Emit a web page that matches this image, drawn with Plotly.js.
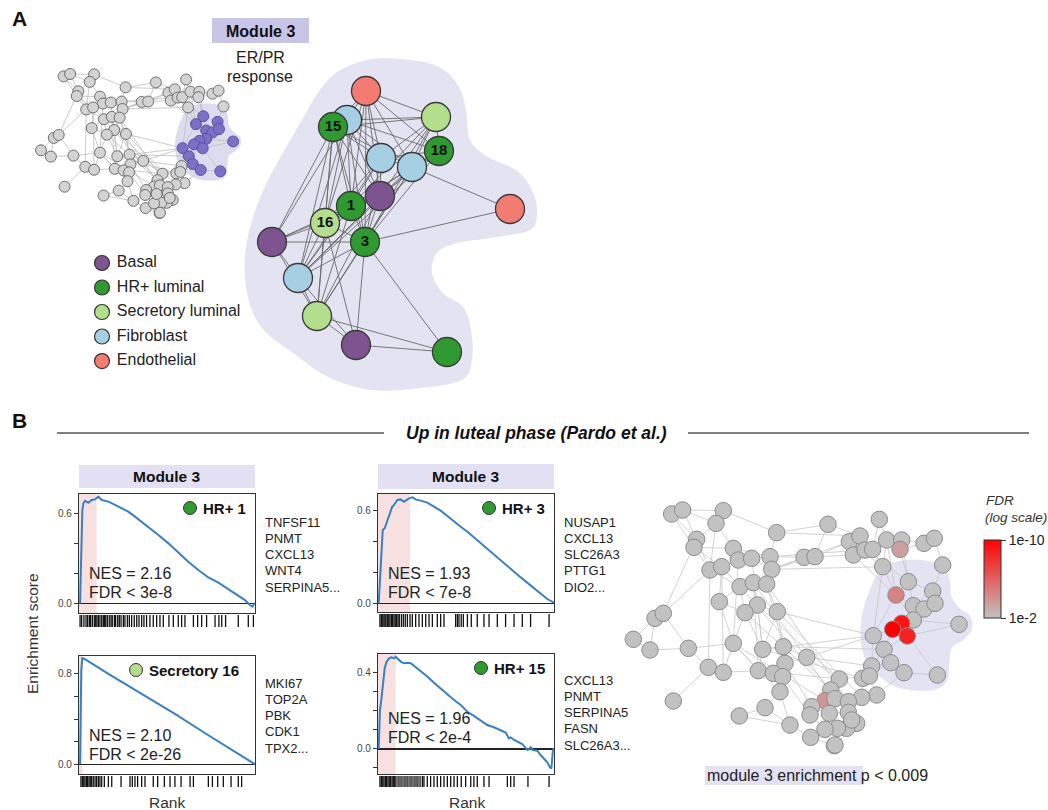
<!DOCTYPE html>
<html>
<head>
<meta charset="utf-8">
<script src="https://cdn.plot.ly/plotly-3.0.1.min.js"></script>
<style>
  html, body { margin: 0; padding: 0; background: #fff; }
  #fig { width: 1048px; height: 810px; }
</style>
</head>
<body>
<div id="fig"></div>
<script>
// ---------------------------------------------------------------
// Cell-type palette
// ---------------------------------------------------------------
const cellTypes  = ['Basal', 'HR+ luminal', 'Secretory luminal', 'Fibroblast', 'Endothelial'];
const typeColors = ['#7e5490', '#2f9a2f', '#b3df8c', '#a6cfe3', '#f47b72'];

// ---------------------------------------------------------------
// Module 3 sub-network (cell-type specific gene programs)
// ---------------------------------------------------------------
const modNodeX    = [366, 347, 333, 436, 439, 381, 412, 380, 351, 325, 365, 510, 272, 298, 317, 356, 447];
const modNodeY    = [ 91, 120, 127, 117, 151, 158, 167, 196, 206, 223, 242, 209, 242, 278, 316, 345, 352];
const modNodeType = [  4,   3,   1,   2,   1,   3,   3,   0,   1,   2,   1,   4,   0,   3,   2,   0,   1];
const modNodeText = ['', '', '15', '', '18', '', '', '', '1', '16', '3', '', '', '', '', '', ''];
const modEdges = [
  [0,1],[0,2],[0,3],[0,4],[0,5],[0,6],[0,7],[0,8],[0,9],[0,10],
  [1,2],[1,3],[1,4],[1,5],[1,6],[1,7],[1,8],[1,9],[1,10],[1,12],[1,13],
  [2,3],[2,5],[2,6],[2,7],[2,8],[2,9],[2,10],[2,12],[2,13],[2,14],
  [3,4],[3,5],[3,6],[3,7],[3,8],[3,10],
  [4,5],[4,6],[4,7],[4,8],[4,10],[4,13],
  [5,6],[5,7],[5,8],[5,9],[5,10],[5,13],
  [6,7],[6,8],[6,10],[6,11],[6,13],[6,14],
  [7,8],[7,9],[7,10],[7,13],[7,14],[7,12],
  [8,9],[8,10],[8,13],[8,14],[8,12],
  [9,10],[9,12],[9,13],[9,14],[9,15],
  [10,11],[10,12],[10,13],[10,14],[10,15],[10,16],
  [12,13],[12,14],[13,14],[13,15],[14,15],[14,16],[15,16]
];
const modHullOutline = [
  [363,61],[400,59],[437,66],[458,85],[466,110],[470,140],[488,157],[516,170],[532,190],[537,213],
  [530,230],[497,237],[457,243],[437,253],[432,273],[443,293],[463,307],[471,330],[472,360],[462,380],
  [420,388],[372,390],[330,378],[296,355],[262,328],[247,293],[246,247],[262,193],[295,132],[328,80]
];

// ---------------------------------------------------------------
// Global module network (shared layout for both overviews)
// ---------------------------------------------------------------
const netX = [215,248,370,348,290,282,400,415,455,510,515,530,330,365,420,460,500,358,472,435,532,165,190,100,150,265,325,370,220,400,488,475,550,555,520,548,620,540,495,418,570,632,703,612,645,684,748,780,760,795,818,838,848,860,905,900,972,1003,1028,925,888,998,940,972,1005,940,905,878,922,820,852,872,912,1012,1077,815,788,830,785,808,718,692,675,705,745,745,770,740,712,675,688,635,630,755,705];
const netY = [162,150,152,190,238,262,265,300,295,290,328,218,330,320,380,368,372,425,435,458,455,475,460,538,570,565,622,637,723,550,568,632,560,610,640,650,592,695,743,768,795,832,857,292,290,193,245,228,285,270,268,178,320,240,240,268,250,235,315,365,405,393,437,447,430,480,490,508,528,527,568,608,638,645,493,618,655,705,712,648,657,690,722,716,725,757,790,805,805,808,760,740,765,780,855];
const module3Nodes = [59,60,61,62,63,64,65,66,67,68,69,70,71,72,73,74];
const netEdges = [
  [0,1],[0,4],[0,5],[1,3],[1,4],[1,2],[2,3],[2,11],[3,4],[3,6],[3,12],[4,5],[4,12],[5,6],[5,12],[5,13],
  [6,7],[6,8],[6,9],[7,8],[7,13],[8,9],[8,10],[9,10],[9,11],[9,43],[10,43],[10,44],[11,45],
  [12,13],[12,14],[13,14],[13,17],[14,15],[14,19],[15,16],[15,18],[16,10],[16,20],[18,19],[18,20],[17,19],[14,17],
  [21,22],[21,23],[21,24],[22,12],[22,4],[23,24],[24,25],[25,26],[25,29],[26,27],[26,28],[27,29],[22,25],
  [17,29],[19,29],[19,30],[18,30],[20,32],[20,30],[29,31],[30,31],[30,32],[31,33],[32,33],[33,34],[34,35],
  [31,34],[27,31],[29,37],[33,36],[35,37],[36,80],[37,38],[38,39],[38,40],[39,40],[40,41],[41,42],[37,40],
  [12,26],[13,27],[15,31],[16,32],[7,29],[8,30],
  [43,44],[44,45],[44,46],[45,47],[46,47],[46,48],[47,48],[47,49],[48,49],[49,50],[50,51],[50,52],[51,53],
  [52,53],[53,54],[53,55],[54,55],[54,56],[55,56],[56,57],[57,58],[55,59],[52,60],[54,59],[43,48],[10,46],[11,47],
  [58,61],[59,60],[59,61],[59,62],[60,62],[60,65],[61,62],[61,63],[61,64],[62,63],[62,65],[63,64],[63,65],
  [64,65],[65,66],[65,68],[66,67],[66,68],[67,68],[67,69],[67,70],[68,70],[68,74],[68,73],[69,70],[70,71],
  [71,72],[72,73],[71,75],[70,75],[69,75],[60,69],[65,74],[62,66],[71,76],[72,77],
  [75,76],[75,79],[76,79],[76,78],[77,78],[77,79],[78,84],[79,80],[80,81],[80,83],[81,82],[81,83],[82,83],
  [82,91],[83,84],[84,85],[85,86],[85,93],[86,87],[87,88],[88,89],[89,90],[90,91],[91,92],[92,89],[93,87],
  [86,94],[88,94],[90,85],[83,90],[84,86],
  [36,69],[32,36],[30,76],[20,69],[18,80],[19,81],[29,82],[35,92],[33,91],[31,80],[14,81],[15,83],[16,84],
  [20,78],[36,75],[32,70],[30,69],[10,52],[9,50],[46,52],[48,60],[49,59],[52,69],[53,60]
];
const module3Outline = [
  [880,306],[960,300],[1030,318],[1050,365],[1055,410],[1080,445],[1112,470],[1115,510],[1090,540],
  [1055,565],[1048,610],[1042,660],[1010,688],[950,692],[890,682],[845,655],[805,615],[785,560],
  [782,495],[795,430],[820,365],[848,322]
];
// nodes enriched for luteal-phase genes, as -log10(FDR)
const enrichedNodes  = [55, 60, 66, 67, 68, 82];
const enrichedNegLog = [3.4, 4.6, 9.2, 10.0, 8.6, 3.8];
const fdrScaleMin = 2, fdrScaleMax = 10;

// ---------------------------------------------------------------
// GSEA running enrichment scores (rank in % of ranked gene list)
// ---------------------------------------------------------------
const gseaNames   = ['HR+ 1', 'Secretory 16', 'HR+ 3', 'HR+ 15'];
const gseaTypes   = [1, 2, 1, 1];
const nesValues   = ['2.16', '2.10', '1.93', '1.96'];
const fdrBounds   = ['3e-8', '2e-26', '7e-8', '2e-4'];
const leadingEdge = [10, 2, 18.2, 10];
const topGenesHR1  = ['TNFSF11', 'PNMT', 'CXCL13', 'WNT4', 'SERPINA5...'];
const topGenesSec16 = ['MKI67', 'TOP2A', 'PBK', 'CDK1', 'TPX2...'];
const topGenesHR3  = ['NUSAP1', 'CXCL13', 'SLC26A3', 'PTTG1', 'DIO2...'];
const topGenesHR15 = ['CXCL13', 'PNMT', 'SERPINA5', 'FASN', 'SLC26A3...'];

const rankHR1 = [0.6,1.1,1.9,2.5,3.4,5.3,7.2,9.1,11.0,12.9,16.7,20.5,24.2,28.0,31.8,35.6,39.4,45.1,50.8,56.4,62.1,67.8,73.5,79.2,84.8,90.5,94.3,97.2,98.5,100];
const esHR1   = [0,0.31,0.62,0.667,0.684,0.671,0.689,0.693,0.711,0.689,0.678,0.656,0.633,0.611,0.578,0.544,0.511,0.456,0.40,0.338,0.278,0.222,0.173,0.138,0.093,0.049,0.022,-0.011,-0.022,0.004];
const rankSec16 = [0.6,0.9,1.3,1.9,3.4,16.7,35.6,54.5,73.5,92.4,100];
const esSec16   = [0,0.422,0.835,0.939,0.930,0.800,0.620,0.446,0.257,0.074,0];
const rankHR3 = [0.4,0.8,1.1,1.5,2.1,2.7,3.8,4.4,5.3,6.3,7.2,8.1,9.1,10.0,11.0,12.9,14.8,16.7,17.6,19.5,21.4,24.2,28.0,31.8,35.6,39.4,43.2,47.0,50.8,54.5,58.3,62.1,65.9,69.7,73.5,77.3,81.1,84.8,88.6,92.4,96.2,100];
const esHR3   = [0,0.086,0.194,0.302,0.41,0.475,0.486,0.507,0.529,0.572,0.604,0.626,0.637,0.652,0.669,0.673,0.658,0.673,0.680,0.686,0.673,0.665,0.652,0.626,0.600,0.566,0.529,0.496,0.464,0.427,0.393,0.356,0.319,0.281,0.242,0.205,0.168,0.134,0.097,0.060,0.028,0.004];
const rankHR15 = [0.4,0.8,1.1,1.9,2.5,3.0,3.8,4.9,6.3,7.6,9.1,10.0,11.0,12.9,14.8,16.7,18.6,20.5,24.2,28.0,31.8,35.6,39.4,43.2,47.0,50.8,54.5,58.3,62.1,65.9,69.7,72.5,74.4,75.4,77.3,79.2,82.0,83.9,84.8,85.8,86.7,87.7,90.5,92.4,94.3,96.2,97.7,98.5,99.4,100];
const esHR15   = [0,0.118,0.205,0.258,0.311,0.372,0.425,0.46,0.477,0.482,0.477,0.486,0.477,0.46,0.451,0.454,0.451,0.437,0.412,0.381,0.349,0.319,0.284,0.258,0.232,0.196,0.174,0.149,0.126,0.114,0.096,0.086,0.056,0.061,0.047,0.039,0.026,0.004,-0.005,-0.002,0.009,-0.005,-0.009,-0.032,-0.049,-0.07,-0.096,-0.104,-0.005,0.004];

// positions of module genes in the ranked list
const hitsHR1 = [0.6,1.5,2.8,4.0,4.9,5.9,6.6,7.6,8.7,9.5,10.2,11.0,11.9,12.9,13.8,14.4,15.2,16.1,17.2,18.2,18.9,20.1,20.8,22.0,22.9,23.9,25.2,26.1,27.5,28.6,29.9,31.4,32.8,34.1,35.6,36.9,38.4,40.3,42.2,44.1,46.0,47.9,51.1,53.6,56.4,58.3,60.2,65.0,67.4,69.7,72.5,77.3,79.5,81.1,83.3,90.5,96.2,99.1];
const hitsSec16 = [1.1,1.9,2.7,3.4,4.2,4.9,5.7,6.4,7.2,8.1,9.1,10.0,11.0,11.9,12.9,14.4,16.7,18.6,23.9,29.0,30.3,31.8,33.3,35.6,37.5,42.2,44.7,48.5,51.7,54.5,58.0,63.1,65.0,73.5,75.8,78.8,82.0,86.4,90.5,92.4];
const hitsHR3 = [1.1,1.9,2.7,3.4,4.0,4.5,5.3,6.1,6.8,7.6,8.3,9.1,9.8,10.6,11.4,12.1,13.3,14.4,15.5,16.7,18.2,19.5,21.4,23.3,25.2,27.1,29.0,30.9,33.7,35.6,37.5,44.1,45.1,46.0,47.3,48.5,50.8,53.0,56.4,60.2,63.1,67.8,72.5,77.3,82.0,86.7,97.2];
const hitsHR15 = [1.1,1.9,2.7,3.4,4.2,4.9,5.7,6.4,7.2,8.0,8.7,9.5,10.2,11.4,12.5,13.6,14.8,15.9,17.0,18.2,19.3,20.5,21.6,22.7,23.9,25.2,26.1,28.0,29.9,31.8,33.7,35.6,37.5,39.4,41.3,43.2,45.1,47.3,49.8,52.7,54.5,56.4,60.2,63.1,73.5,75.4,77.3,85.2,97.2];

// ---------------------------------------------------------------
// Helpers (page is 1048 x 810, positions below are in pixels)
// ---------------------------------------------------------------
const W = 1048, H = 810;
const FONT = 'Liberation Sans, Arial, Helvetica, sans-serif';
const INK = '#222';
const fx = p => p / W;
const fy = p => 1 - p / H;
const xdom = (a, b) => [a / W, b / W];
const ydom = (a, b) => [1 - b / H, 1 - a / H];

function hiddenAxis(domain, range, anchor) {
  return { domain, range, anchor, visible: false, fixedrange: true };
}

function edgeTrace(xs, ys, edges, xa, ya, color, width) {
  const ex = [], ey = [];
  edges.forEach(([a, b]) => { ex.push(xs[a], xs[b], null); ey.push(ys[a], ys[b], null); });
  return { type: 'scatter', mode: 'lines', x: ex, y: ey, xaxis: xa, yaxis: ya,
           line: { color, width }, hoverinfo: 'skip', showlegend: false, cliponaxis: false };
}

// closed Catmull-Rom curve through outline points -> SVG path
function smoothPath(pts) {
  const n = pts.length;
  let d = `M ${pts[0][0]},${pts[0][1]}`;
  for (let i = 0; i < n; i++) {
    const p0 = pts[(i - 1 + n) % n], p1 = pts[i], p2 = pts[(i + 1) % n], p3 = pts[(i + 2) % n];
    const c1 = [p1[0] + (p2[0] - p0[0]) / 6, p1[1] + (p2[1] - p0[1]) / 6];
    const c2 = [p2[0] - (p3[0] - p1[0]) / 6, p2[1] - (p3[1] - p1[1]) / 6];
    d += ` C ${c1[0].toFixed(1)},${c1[1].toFixed(1)} ${c2[0].toFixed(1)},${c2[1].toFixed(1)} ${p2[0]},${p2[1]}`;
  }
  return d + ' Z';
}

function ann(text, x, y, o = {}) {
  return {
    text, x: fx(x), y: fy(y), xref: 'paper', yref: 'paper', showarrow: false,
    xanchor: o.xanchor || 'left', yanchor: 'middle', textangle: o.angle || 0,
    font: { family: FONT, size: o.size || 14, color: o.color || INK },
    bgcolor: o.bg || 'rgba(0,0,0,0)', borderpad: 0
  };
}

const traces = [], shapes = [], annotations = [];
const layout = {
  width: W, height: H, margin: { l: 0, r: 0, t: 0, b: 0 },
  paper_bgcolor: '#fff', plot_bgcolor: 'rgba(0,0,0,0)',
  showlegend: false, hovermode: false,
  font: { family: FONT, color: INK }
};

// ---------------------------------------------------------------
// Panel A
// ---------------------------------------------------------------
annotations.push(ann('<b>A</b>', 11, 18, { size: 21, color: '#111' }));
annotations.push(ann('<b>B</b>', 11, 421, { size: 21, color: '#111' }));

// header of module 3
shapes.push({ type: 'rect', xref: 'paper', yref: 'paper', x0: fx(212), x1: fx(309), y0: fy(18), y1: fy(43),
              fillcolor: '#c8c5e6', line: { width: 0 }, layer: 'below' });
annotations.push(ann('<b>Module 3</b>', 260, 31, { xanchor: 'center', size: 16, color: '#111' }));
annotations.push(ann('ER/PR', 260, 57, { xanchor: 'center', size: 16 }));
annotations.push(ann('response', 260, 76, { xanchor: 'center', size: 16 }));

// small overview network
layout.xaxis2 = hiddenAxis(xdom(30, 250), [44.1, 1162.8], 'y2');
layout.yaxis2 = hiddenAxis(ydom(60, 225), [917.8, 78.8], 'x2');
shapes.push({ type: 'path', xref: 'x2', yref: 'y2', path: smoothPath(module3Outline),
              fillcolor: '#dddcef', line: { width: 0 }, layer: 'below' });
traces.push(edgeTrace(netX, netY, netEdges, 'x2', 'y2', '#bdbdbd', 0.8));
const inModule = netX.map((_, i) => module3Nodes.includes(i));
traces.push({
  type: 'scatter', mode: 'markers', x: netX, y: netY, xaxis: 'x2', yaxis: 'y2', cliponaxis: false,
  marker: { size: 11, color: inModule.map(m => m ? '#7a71c6' : '#d3d3d3'),
            line: { color: inModule.map(m => m ? '#5a52a0' : '#6e6e6e'), width: 1 } },
  hoverinfo: 'skip'
});

// module 3 network with cell-type programs
layout.xaxis = hiddenAxis(xdom(240, 540), [240, 540], 'y');
layout.yaxis = hiddenAxis(ydom(55, 395), [395, 55], 'x');
shapes.push({ type: 'path', xref: 'x', yref: 'y', path: smoothPath(modHullOutline),
              fillcolor: '#e4e3f1', line: { width: 0 }, layer: 'below' });
traces.push(edgeTrace(modNodeX, modNodeY, modEdges, 'x', 'y', '#6a6a6a', 0.9));
traces.push({
  type: 'scatter', mode: 'markers+text', x: modNodeX, y: modNodeY, xaxis: 'x', yaxis: 'y', cliponaxis: false,
  text: modNodeText.map(t => t ? `<b>${t}</b>` : ''), textposition: 'middle center',
  textfont: { family: FONT, size: 15, color: '#111' },
  marker: { size: 29, color: modNodeType.map(t => typeColors[t]), line: { color: '#3a3a3a', width: 1.3 } },
  hoverinfo: 'skip'
});

// cell-type key
layout.xaxis3 = hiddenAxis(xdom(90, 260), [0, 170], 'y3');
layout.yaxis3 = hiddenAxis(ydom(250, 375), [4.57, -0.53], 'x3');
traces.push({
  type: 'scatter', mode: 'markers+text', xaxis: 'x3', yaxis: 'y3', cliponaxis: false,
  x: cellTypes.map(() => 12), y: cellTypes.map((_, i) => i),
  text: cellTypes.map(t => ' ' + t), textposition: 'middle right',
  textfont: { family: FONT, size: 16, color: INK },
  marker: { size: 15, color: typeColors, line: { color: '#333', width: 1.2 } },
  hoverinfo: 'skip'
});

// ---------------------------------------------------------------
// Panel B header
// ---------------------------------------------------------------
shapes.push({ type: 'line', xref: 'paper', yref: 'paper', x0: fx(57), x1: fx(384), y0: fy(433), y1: fy(433),
              line: { color: '#555', width: 1.3 } });
shapes.push({ type: 'line', xref: 'paper', yref: 'paper', x0: fx(688), x1: fx(1029), y0: fy(433), y1: fy(433),
              line: { color: '#555', width: 1.3 } });
annotations.push(ann('<b><i>Up in luteal phase (Pardo et al.)</i></b>', 536, 433, { xanchor: 'center', size: 17.5, color: '#111' }));

// ---------------------------------------------------------------
// GSEA panels
// ---------------------------------------------------------------
const gseaRanks = [rankHR1, rankSec16, rankHR3, rankHR15];
const gseaES    = [esHR1, esSec16, esHR3, esHR15];
const gseaHits  = [hitsHR1, hitsSec16, hitsHR3, hitsHR15];
const gseaGenes = [topGenesHR1, topGenesSec16, topGenesHR3, topGenesHR15];
const frames = [
  { x: [79, 255],  y: [494, 613], rug: [615, 627], yr: [-0.064, 0.729], tv: [0, 0.2, 0.4, 0.6],        tt: ['0.0', '', '', '0.6'] },
  { x: [79, 255],  y: [656, 774], rug: [776, 787], yr: [-0.086, 0.959], tv: [0, 0.2, 0.4, 0.6, 0.8],   tt: ['0.0', '', '', '', '0.8'] },
  { x: [378, 554], y: [494, 612], rug: [614, 627], yr: [-0.056, 0.708], tv: [0, 0.2, 0.4, 0.6],        tt: ['0.0', '', '', '0.6'] },
  { x: [378, 554], y: [654, 774], rug: [776, 787], yr: [-0.132, 0.50],  tv: [-0.1, 0, 0.1, 0.2, 0.3, 0.4], tt: ['', '0.0', '', '', '', '0.4'] }
];

frames.forEach((f, i) => {
  const xa = 'x' + (5 + i), ya = 'y' + (5 + i), ra = 'y' + (9 + i);
  layout['xaxis' + (5 + i)] = {
    domain: xdom(f.x[0], f.x[1]), range: [0, 100], anchor: ya, fixedrange: true,
    showline: true, mirror: true, linecolor: '#333', linewidth: 1.2,
    showticklabels: false, ticks: '', showgrid: false, zeroline: false
  };
  layout['yaxis' + (5 + i)] = {
    domain: ydom(f.y[0], f.y[1]), range: f.yr, anchor: xa, fixedrange: true,
    showline: true, mirror: true, linecolor: '#333', linewidth: 1.2,
    ticks: 'outside', ticklen: 4, tickwidth: 1, tickcolor: '#333',
    tickvals: f.tv, ticktext: f.tt, tickfont: { family: FONT, size: 10, color: '#444' },
    showgrid: false, zeroline: true, zerolinecolor: '#222', zerolinewidth: 1.3
  };
  layout['yaxis' + (9 + i)] = hiddenAxis(ydom(f.rug[0], f.rug[1]), [0, 1], xa);

  // leading-edge band
  shapes.push({ type: 'rect', xref: xa, yref: ya + ' domain', x0: 0, x1: leadingEdge[i], y0: 0, y1: 1,
                fillcolor: '#f7e0e0', line: { width: 0 }, layer: 'below' });

  // running enrichment score
  traces.push({ type: 'scatter', mode: 'lines', x: gseaRanks[i], y: gseaES[i], xaxis: xa, yaxis: ya,
                line: { color: '#3a7fc0', width: 2 }, hoverinfo: 'skip' });

  // hit ticks
  const hx = [], hy = [];
  gseaHits[i].forEach(r => { hx.push(r, r, null); hy.push(0, 1, null); });
  traces.push({ type: 'scatter', mode: 'lines', x: hx, y: hy, xaxis: xa, yaxis: ra,
                line: { color: '#111', width: 1.3 }, hoverinfo: 'skip' });

  // program label with cell-type dot
  const ly = f.y[0] + 14;
  const nameW = gseaNames[i].length > 8 ? 99 : (gseaNames[i].length > 5 ? 53 : 45);
  const tx = f.x[1] - 8 - nameW;
  shapes.push({ type: 'circle', xref: 'paper', yref: 'paper', xsizemode: 'pixel', ysizemode: 'pixel',
                xanchor: fx(tx - 12), yanchor: fy(ly), x0: -6.5, x1: 6.5, y0: -6.5, y1: 6.5,
                fillcolor: typeColors[gseaTypes[i]], line: { color: '#333', width: 1 } });
  annotations.push(ann(`<b>${gseaNames[i]}</b>`, tx, ly, { size: 15, color: '#111' }));

  // NES / FDR
  const by = f.y[0] + (i === 3 ? 64 : 79);
  annotations.push(ann(`NES = ${nesValues[i]}`, f.x[0] + 9, by, { size: 16 }));
  annotations.push(ann(`FDR &lt; ${fdrBounds[i]}`, f.x[0] + 9, by + 19, { size: 16 }));

  // leading genes
  const gy = f.y[0] + (i === 3 ? 26 : (i === 1 ? 27 : 28));
  gseaGenes[i].forEach((g, k) => {
    annotations.push(ann(g, f.x[1] + 9, gy + k * 16.3, { size: 13, color: '#222' }));
  });
});

// module 3 headers above the top GSEA panels
[[79, 255, 465, 488], [378, 554, 464, 489]].forEach(b => {
  shapes.push({ type: 'rect', xref: 'paper', yref: 'paper', x0: fx(b[0]), x1: fx(b[1]), y0: fy(b[2]), y1: fy(b[3]),
                fillcolor: '#e2e0f2', line: { width: 0 }, layer: 'below' });
  annotations.push(ann('<b>Module 3</b>', (b[0] + b[1]) / 2, (b[2] + b[3]) / 2, { xanchor: 'center', size: 15.5, color: '#111' }));
});

annotations.push(ann('Enrichment score', 32, 634, { xanchor: 'center', size: 15.5, angle: -90, color: '#333' }));
annotations.push(ann('Rank', 167, 802, { xanchor: 'center', size: 15.5, color: '#333' }));
annotations.push(ann('Rank', 467, 802, { xanchor: 'center', size: 15.5, color: '#333' }));

// ---------------------------------------------------------------
// Enrichment projected on the global network
// ---------------------------------------------------------------
layout.xaxis4 = hiddenAxis(xdom(615, 975), [45, 1125], 'y4');
layout.yaxis4 = hiddenAxis(ydom(495, 755), [885, 105], 'x4');
shapes.push({ type: 'path', xref: 'x4', yref: 'y4', path: smoothPath(module3Outline),
              fillcolor: '#e4e3f3', line: { width: 0 }, layer: 'below' });
traces.push(edgeTrace(netX, netY, netEdges, 'x4', 'y4', '#c6c6c6', 0.8));
const nodeScore = netX.map((_, i) => {
  const k = enrichedNodes.indexOf(i);
  return k >= 0 ? enrichedNegLog[k] : fdrScaleMin;
});
traces.push({
  type: 'scatter', mode: 'markers', x: netX, y: netY, xaxis: 'x4', yaxis: 'y4', cliponaxis: false,
  marker: {
    size: 16.5, color: nodeScore, cmin: fdrScaleMin, cmax: fdrScaleMax,
    colorscale: [[0, '#c2c2c2'], [1, '#ff0000']],
    line: { color: '#8c8c8c', width: 1 },
    showscale: true,
    colorbar: {
      x: fx(984), xanchor: 'left', xref: 'paper', y: fy(540), yanchor: 'top', yref: 'paper',
      len: 78, lenmode: 'pixels', thickness: 17, thicknessmode: 'pixels', xpad: 0, ypad: 0,
      outlinewidth: 1, outlinecolor: '#333',
      tickvals: [fdrScaleMax, fdrScaleMin], ticktext: ['1e-10', '1e-2'],
      ticks: 'outside', ticklen: 5, tickwidth: 1, tickcolor: '#333',
      tickfont: { family: FONT, size: 14, color: INK },
      title: { text: '' }
    }
  },
  hoverinfo: 'skip'
});
annotations.push(ann('<i>FDR</i>', 985, 501, { size: 13.5, color: '#333' }));
annotations.push(ann('<i>(log scale)</i>', 984, 517, { size: 13.5, color: '#333' }));

shapes.push({ type: 'rect', xref: 'paper', yref: 'paper', x0: fx(705), x1: fx(863), y0: fy(766), y1: fy(785),
              fillcolor: '#e3e2f2', line: { width: 0 }, layer: 'below' });
annotations.push(ann('module 3 enrichment p &lt; 0.009', 706, 775, { size: 16, color: '#222' }));

layout.shapes = shapes;
layout.annotations = annotations;

Plotly.newPlot('fig', traces, layout, { staticPlot: true, displayModeBar: false });
</script>
</body>
</html>
